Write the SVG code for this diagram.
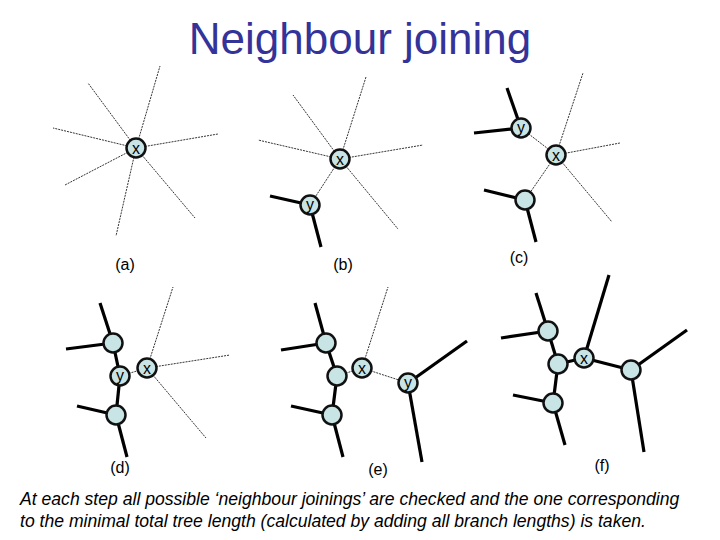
<svg xmlns="http://www.w3.org/2000/svg" width="720" height="540" viewBox="0 0 720 540">
<style>
.t{stroke:#000;stroke-width:0.8;stroke-dasharray:2 1}
.k{stroke:#000;stroke-width:3.2}
.n{fill:#c8e4e4;stroke:#111;stroke-width:2.5}
.l{font-family:"Liberation Sans",Arial,sans-serif;font-size:16px;text-anchor:middle}
.c{font-family:"Liberation Sans",Arial,sans-serif;font-size:17.6px;font-style:italic}
</style>
<rect width="720" height="540" fill="#fff"/>
<text x="360" y="54" font-family="Liberation Sans,Arial,sans-serif" font-size="44" fill="#333399" text-anchor="middle">Neighbour joining</text>
<g id="connectors">
<line class="t" x1="136" y1="148" x2="160" y2="66"/><line class="t" x1="136" y1="148" x2="88" y2="83"/>
<line class="t" x1="136" y1="148" x2="53" y2="128"/><line class="t" x1="136" y1="148" x2="218" y2="134"/>
<line class="t" x1="136" y1="148" x2="65" y2="185"/><line class="t" x1="136" y1="148" x2="116" y2="236"/>
<line class="t" x1="136" y1="148" x2="195" y2="218"/>
<line class="t" x1="340" y1="159" x2="366" y2="77"/><line class="t" x1="340" y1="159" x2="293" y2="95"/>
<line class="t" x1="340" y1="159" x2="258" y2="140"/><line class="t" x1="340" y1="159" x2="423" y2="145"/>
<line class="t" x1="340" y1="159" x2="398" y2="229"/><line class="t" x1="340" y1="159" x2="310" y2="205"/>
<line class="k" x1="310" y1="205" x2="270" y2="196"/><line class="k" x1="310" y1="205" x2="321" y2="247"/>
<line class="t" x1="556" y1="155" x2="521" y2="128"/><line class="t" x1="556" y1="155" x2="525" y2="200"/>
<line class="t" x1="556" y1="155" x2="583" y2="73"/><line class="t" x1="556" y1="155" x2="620" y2="143"/>
<line class="t" x1="556" y1="155" x2="612" y2="222"/>
<line class="k" x1="521" y1="128" x2="507" y2="88"/><line class="k" x1="521" y1="128" x2="474" y2="133"/>
<line class="k" x1="525" y1="200" x2="484" y2="190"/><line class="k" x1="525" y1="200" x2="536" y2="242"/>
<line class="k" x1="113" y1="343" x2="100" y2="303"/><line class="k" x1="113" y1="343" x2="66" y2="349"/>
<line class="k" x1="113" y1="343" x2="120" y2="376"/><line class="k" x1="120" y1="376" x2="116" y2="415"/>
<line class="k" x1="116" y1="415" x2="77" y2="406"/><line class="k" x1="116" y1="415" x2="127" y2="457"/>
<line class="t" x1="120" y1="376" x2="147" y2="368"/>
<line class="t" x1="147" y1="368" x2="173" y2="287"/><line class="t" x1="147" y1="368" x2="230" y2="355"/>
<line class="t" x1="147" y1="368" x2="206" y2="438"/>
<line class="k" x1="326" y1="343" x2="315" y2="303"/><line class="k" x1="326" y1="343" x2="281" y2="350"/>
<line class="k" x1="326" y1="343" x2="337" y2="376"/><line class="k" x1="337" y1="376" x2="332" y2="415"/>
<line class="k" x1="332" y1="415" x2="291" y2="406"/><line class="k" x1="332" y1="415" x2="343" y2="457"/>
<line class="t" x1="337" y1="376" x2="362" y2="368"/><line class="t" x1="362" y1="368" x2="388" y2="287"/>
<line class="t" x1="362" y1="368" x2="408" y2="383"/>
<line class="k" x1="408" y1="383" x2="467" y2="341"/><line class="k" x1="408" y1="383" x2="422" y2="462"/>
<line class="k" x1="548" y1="331" x2="536" y2="293"/><line class="k" x1="548" y1="331" x2="501" y2="338"/>
<line class="k" x1="548" y1="331" x2="558" y2="364"/><line class="k" x1="558" y1="364" x2="553" y2="403"/>
<line class="k" x1="553" y1="403" x2="513" y2="395"/><line class="k" x1="553" y1="403" x2="565" y2="445"/>
<line class="k" x1="558" y1="364" x2="584" y2="358"/><line class="k" x1="584" y1="358" x2="609" y2="275"/>
<line class="k" x1="584" y1="358" x2="631" y2="370"/>
<line class="k" x1="631" y1="370" x2="687" y2="330"/><line class="k" x1="631" y1="370" x2="644" y2="452"/>
</g>
<g id="nodes" font-family="Liberation Sans,Arial,sans-serif" font-size="16" text-anchor="middle">
<g id="a-x"><circle class="n" cx="136" cy="148" r="9.5"/><text x="136" y="154">x</text></g>
<g id="b-x"><circle class="n" cx="340" cy="159" r="9.5"/><text x="340" y="165">x</text></g>
<g id="b-y"><circle class="n" cx="310" cy="205" r="9.5"/><text x="310" y="210">y</text></g>
<g id="c-y"><circle class="n" cx="521" cy="128" r="9.5"/><text x="521" y="133">y</text></g>
<g id="c-x"><circle class="n" cx="556" cy="155" r="9.5"/><text x="556" y="161">x</text></g>
<g id="c-n"><circle class="n" cx="525" cy="200" r="9.5"/></g>
<g id="d-1"><circle class="n" cx="113" cy="343" r="9.5"/></g>
<g id="d-y"><circle class="n" cx="120" cy="376" r="9.5"/><text x="120" y="381">y</text></g>
<g id="d-3"><circle class="n" cx="116" cy="415" r="9.5"/></g>
<g id="d-x"><circle class="n" cx="147" cy="368" r="9.5"/><text x="147" y="374">x</text></g>
<g id="e-1"><circle class="n" cx="326" cy="343" r="9.5"/></g>
<g id="e-2"><circle class="n" cx="337" cy="376" r="9.5"/></g>
<g id="e-3"><circle class="n" cx="332" cy="415" r="9.5"/></g>
<g id="e-x"><circle class="n" cx="362" cy="368" r="9.5"/><text x="362" y="374">x</text></g>
<g id="e-y"><circle class="n" cx="408" cy="383" r="9.5"/><text x="408" y="388">y</text></g>
<g id="f-1"><circle class="n" cx="548" cy="331" r="9.5"/></g>
<g id="f-2"><circle class="n" cx="558" cy="364" r="9.5"/></g>
<g id="f-3"><circle class="n" cx="553" cy="403" r="9.5"/></g>
<g id="f-x"><circle class="n" cx="584" cy="358" r="9.5"/><text x="584" y="364">x</text></g>
<g id="f-4"><circle class="n" cx="631" cy="370" r="9.5"/></g>
</g>
<g id="labels">
<text class="l" x="125" y="270">(a)</text><text class="l" x="343" y="270">(b)</text><text class="l" x="519" y="263">(c)</text>
<text class="l" x="120" y="473">(d)</text><text class="l" x="378" y="475">(e)</text><text class="l" x="602" y="471">(f)</text>
<text class="c" x="20" y="505">At each step all possible ‘neighbour joinings’ are checked and the one corresponding</text>
<text class="c" x="20" y="527">to the minimal total tree length (calculated by adding all branch lengths) is taken.</text>
</g>
</svg>
